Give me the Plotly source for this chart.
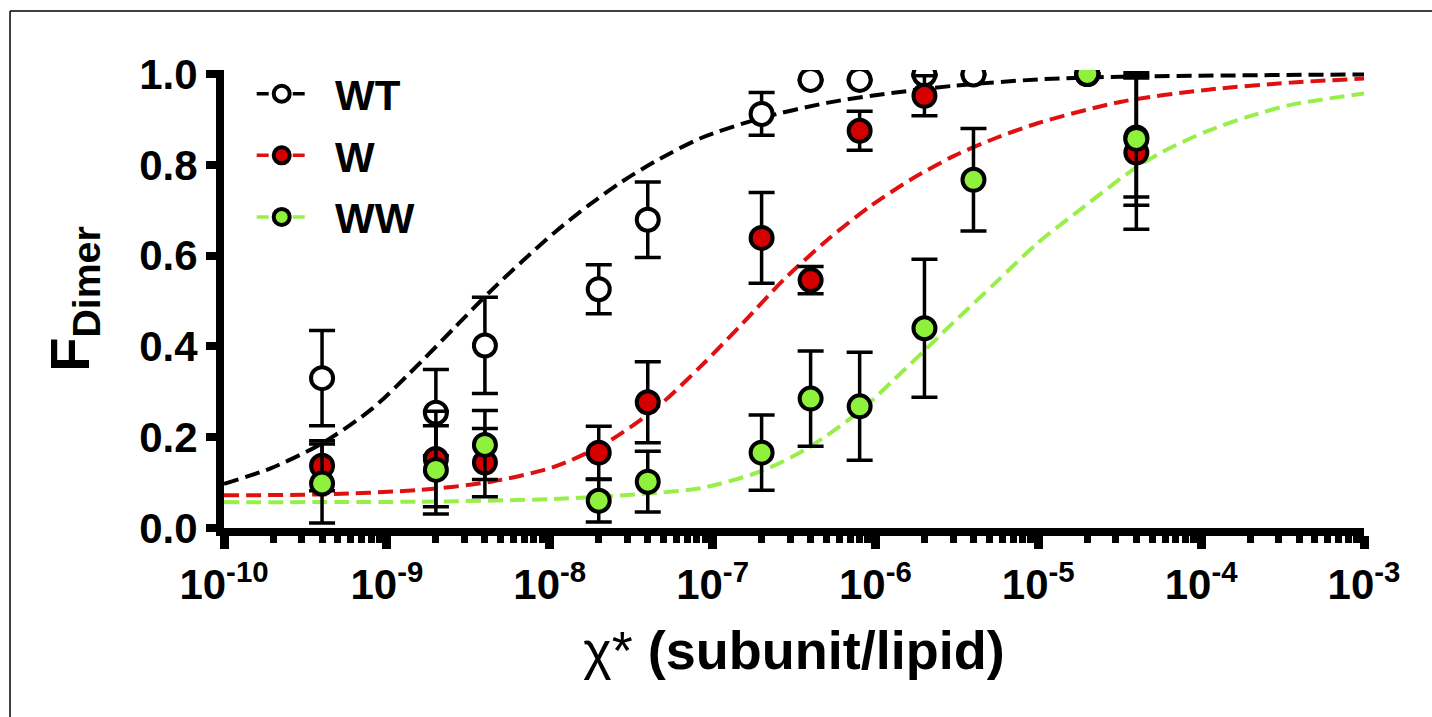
import plotly.graph_objects as go

# ---------------- data ----------------
chi = [4e-10, 2e-9, 4e-9, 2e-8, 4e-8, 2e-7, 4e-7, 8e-7, 2e-6, 4e-6, 2e-5, 4e-5]

wt_mean = [0.330, 0.254, 0.402, 0.526, 0.679, 0.912, 0.987, 0.987, 0.999, 0.999, 1.000, 0.860]
wt_err = [0.105, 0.095, 0.106, 0.054, 0.083, 0.047, 0.0, 0.0, 0.0, 0.0, 0.0, 0.131]

w_mean = [0.137, 0.152, 0.144, 0.166, 0.277, 0.639, 0.546, 0.875, 0.952, None, 1.000, 0.827]
w_err = [0.055, 0.105, 0.075, 0.058, 0.089, 0.100, 0.030, 0.043, 0.044, None, 0.0, 0.169]

ww_mean = [0.098, 0.128, 0.183, 0.060, 0.102, 0.166, 0.285, 0.268, 0.440, 0.767, 1.000, 0.857]
ww_err = [0.087, 0.097, 0.076, 0.047, 0.067, 0.083, 0.105, 0.119, 0.152, 0.113, 0.0, 0.146]

# fitted curves (exponent of chi, F_dimer)
wt_fit_exp = [-10.0, -9.71, -9.40, -9.09, -8.79, -8.58, -8.36, -8.17, -7.97, -7.76,
              -7.56, -7.35, -7.07, -6.71, -6.29, -5.90, -5.52, -5.00, -4.49, -3.00]
wt_fit_val = [0.097, 0.132, 0.186, 0.263, 0.366, 0.443, 0.523, 0.587, 0.651, 0.711,
              0.762, 0.808, 0.859, 0.902, 0.937, 0.958, 0.974, 0.988, 0.994, 0.999]

w_fit_exp = [-10.0, -9.40, -8.79, -8.36, -7.97, -7.66, -7.35, -7.07, -6.81, -6.56,
             -6.29, -6.03, -5.78, -5.52, -5.26, -5.00, -4.49, -3.97, -3.45, -3.00]
w_fit_val = [0.072, 0.074, 0.084, 0.102, 0.135, 0.186, 0.263, 0.357, 0.453, 0.548,
             0.636, 0.709, 0.768, 0.819, 0.859, 0.892, 0.939, 0.965, 0.981, 0.990]

ww_fit_exp = [-10.0, -8.79, -7.97, -7.35, -7.07, -6.71, -6.42, -6.09, -5.90, -5.71,
              -5.52, -5.26, -5.00, -4.74, -4.42, -4.23, -3.97, -3.71, -3.45, -3.00]
ww_fit_val = [0.057, 0.058, 0.064, 0.077, 0.088, 0.124, 0.175, 0.259, 0.322, 0.387,
              0.453, 0.541, 0.629, 0.702, 0.789, 0.830, 0.873, 0.906, 0.932, 0.957]

series_names = ["WT", "W", "WW"]
x_tick_vals = [1e-10, 1e-9, 1e-8, 1e-7, 1e-6, 1e-5, 1e-4, 1e-3]
x_tick_text = ["10<sup>-10</sup>", "10<sup>-9</sup>", "10<sup>-8</sup>", "10<sup>-7</sup>",
               "10<sup>-6</sup>", "10<sup>-5</sup>", "10<sup>-4</sup>", "10<sup>-3</sup>"]
y_tick_vals = [0.0, 0.2, 0.4, 0.6, 0.8, 1.0]
y_tick_text = ["0.0", "0.2", "0.4", "0.6", "0.8", "1.0"]

# ---------------- styling ----------------
FONT = "Liberation Sans, Arial, Helvetica, sans-serif"
line_cols = ["#000000", "#e01010", "#98ef4a"]
fill_cols = ["#ffffff", "#d40000", "#8ef23c"]
DASH = "15px,7px"

fig = go.Figure()

# fitted curves (drawn first, beneath the points)
for ex, val, col in zip([wt_fit_exp, w_fit_exp, ww_fit_exp],
                        [wt_fit_val, w_fit_val, ww_fit_val], line_cols):
    fig.add_trace(go.Scatter(
        x=[10 ** e for e in ex], y=val, mode="lines",
        line=dict(color=col, width=4, dash=DASH, shape="spline", smoothing=0.8),
        showlegend=False, hoverinfo="skip"))

# data points with error bars
for means, errs, fc in zip([wt_mean, w_mean, ww_mean], [wt_err, w_err, ww_err], fill_cols):
    xs = [c for c, m in zip(chi, means) if m is not None]
    ys = [m for m in means if m is not None]
    es = [e for m, e in zip(means, errs) if m is not None]
    fig.add_trace(go.Scatter(
        x=xs, y=ys, mode="markers",
        marker=dict(size=22, color=fc, line=dict(color="black", width=4)),
        error_y=dict(type="data", array=es, visible=True, color="black",
                     thickness=3.5, width=13),
        showlegend=False))

# legend entries
for name, lc, fc in zip(series_names, line_cols, fill_cols):
    fig.add_trace(go.Scatter(
        x=[None], y=[None], mode="lines+markers", name="\u00a0\u00a0" + name,
        legendgroup=name,
        line=dict(color=lc, width=3.5, dash="12px,6px"),
        marker=dict(size=22, color=fc, line=dict(color="black", width=4))))

fig.update_layout(
    width=1432, height=717,
    margin=dict(l=224, r=68, t=70, b=189),
    paper_bgcolor="white", plot_bgcolor="white",
    font=dict(family=FONT, color="black"),
    legend=dict(x=0.0243, y=1.022, xanchor="left", yanchor="top",
                font=dict(size=42, weight="bold", family=FONT),
                itemwidth=50, tracegroupgap=4, bgcolor="rgba(0,0,0,0)"),
    xaxis=dict(
        type="log", range=[-10, -3],
        showgrid=False, zeroline=False,
        showline=True, linecolor="black", linewidth=8,
        ticks="outside", ticklen=13, tickwidth=9, tickcolor="black",
        tickmode="array", tickvals=x_tick_vals, ticktext=x_tick_text,
        tickfont=dict(size=42, weight="bold", family=FONT),
        minor=dict(ticks="outside", ticklen=7, tickwidth=7, tickcolor="black",
                   tickmode="array",
                   tickvals=[m * d for d in x_tick_vals[:-1] for m in range(2, 10)]),
        title=dict(text="χ* <b>(subunit/lipid)</b>",
                   font=dict(size=54, family=FONT), standoff=27),
    ),
    yaxis=dict(
        range=[0, 1.0088],
        showgrid=False, zeroline=False,
        showline=True, linecolor="black", linewidth=8,
        ticks="outside", ticklen=10, tickwidth=8, tickcolor="black",
        tickmode="array", tickvals=y_tick_vals, ticktext=y_tick_text,
        tickfont=dict(size=42, weight="bold", family=FONT),
        title=dict(text="<b>F<sub>Dimer</sub></b>",
                   font=dict(size=56, family=FONT), standoff=35),
    ),
    shapes=[
        dict(type="line", xref="paper", yref="paper", x0=-0.1877, x1=1.1,
             y0=1.1288, y1=1.1288, line=dict(color="black", width=1.5)),
        dict(type="line", xref="paper", yref="paper", x0=-0.1877, x1=-0.1877,
             y0=1.1288, y1=-0.5, line=dict(color="black", width=1.5)),
    ],
)

fig.write_html("out.html", config={"displayModeBar": False},
               post_script="document.body.style.margin='0';document.body.style.overflow='hidden';")
